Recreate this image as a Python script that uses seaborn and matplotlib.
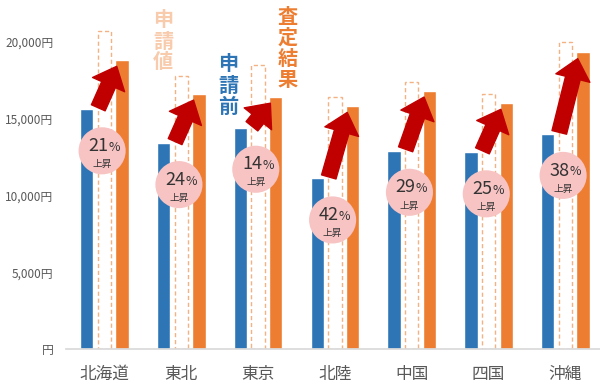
import pandas as pd
import matplotlib.pyplot as plt
import seaborn as sns

# データ
regions = ["北海道", "東北", "東京", "北陸", "中国", "四国", "沖縄"]
before = [15600, 13400, 14400, 11100, 12900, 12800, 14000]      # 申請前
applied = [20700, 17800, 18500, 16400, 17400, 16600, 20000]     # 申請値
assessed = [18800, 16600, 16400, 15800, 16800, 16000, 19300]    # 査定結果
rise = ["21", "24", "14", "42", "29", "25", "38"]
series = ["申請前", "申請値", "査定結果"]

sns.set_theme(style="white")
plt.rcParams["font.family"] = ["Noto Sans CJK JP", "DejaVu Sans"]

df = pd.DataFrame({
    "地域": regions * 3,
    "系列": [s for s in series for _ in regions],
    "金額": before + applied + assessed,
})

fig = plt.figure(figsize=(6, 3.92), dpi=100)
ax = fig.add_axes([66 / 600, 43 / 392, 534 / 600, 338 / 392])

sns.barplot(data=df, x="地域", y="金額", hue="系列", hue_order=series,
            palette=["#2E75B6", "#FFFFFF", "#ED7D31"], saturation=1,
            width=0.69, gap=0.25, legend=False, ax=ax, zorder=2)

# 申請値は点線の枠だけ
for p in ax.containers[1]:
    p.set_facecolor("none")
    p.set_edgecolor("#F4B183")
    p.set_linestyle((0, (3, 2)))
    p.set_linewidth(1.0)

ax.set_xlim(-0.5, 6.45)
ax.set_ylim(0, 22000)
ax.set_yticks([0, 5000, 10000, 15000, 20000])
ax.set_yticklabels([f"{v:,}円" if v else "円" for v in [0, 5000, 10000, 15000, 20000]])
ax.set_xlabel("")
ax.set_ylabel("")
ax.tick_params(axis="y", length=0, pad=9, labelsize=8.5, labelcolor="#595959")
ax.tick_params(axis="x", length=0, pad=12, labelsize=12, labelcolor="#595959")
for s in ["left", "right", "top"]:
    ax.spines[s].set_visible(False)
ax.spines["bottom"].set_color("#D9D9D9")

# 矢印と上昇率
for i in range(len(regions)):
    ax.annotate("", xy=(i + 0.16, assessed[i] - 400), xytext=(i - 0.08, before[i] + 100),
                arrowprops=dict(arrowstyle="simple,head_length=0.6,head_width=1.05,tail_width=0.45",
                                color="#C00000", mutation_scale=24, shrinkA=0, shrinkB=0),
                zorder=4)
    cx, cy = i - 0.03, before[i] - 2700
    ax.scatter([cx], [cy], s=1150, color="#F7C3C3", edgecolor="none", zorder=5)
    ax.annotate(rise[i], xy=(cx, cy), xytext=(4.5, 3.5), textcoords="offset points",
                ha="right", va="center", fontsize=13, color="#333333", zorder=6)
    ax.annotate("%", xy=(cx, cy), xytext=(4.5, 2.5), textcoords="offset points",
                ha="left", va="center", fontsize=9, color="#333333", zorder=6)
    ax.annotate("上昇", xy=(cx, cy), xytext=(0, -9.5), textcoords="offset points",
                ha="center", va="center", fontsize=7, color="#333333", zorder=6)

# 凡例（縦書き）
fig.text(163 / 600, 1 - 41 / 392, "\n".join("申請値"), ha="center", va="center",
         fontsize=14.5, fontweight="bold", color="#F8CBAD", linespacing=1.0)
fig.text(228 / 600, 1 - 85 / 392, "\n".join("申請前"), ha="center", va="center",
         fontsize=14.5, fontweight="bold", color="#2E75B6", linespacing=1.0)
fig.text(288 / 600, 1 - 48 / 392, "\n".join("査定結果"), ha="center", va="center",
         fontsize=14.5, fontweight="bold", color="#ED7D31", linespacing=1.0)

plt.savefig("out.png", dpi=100)
